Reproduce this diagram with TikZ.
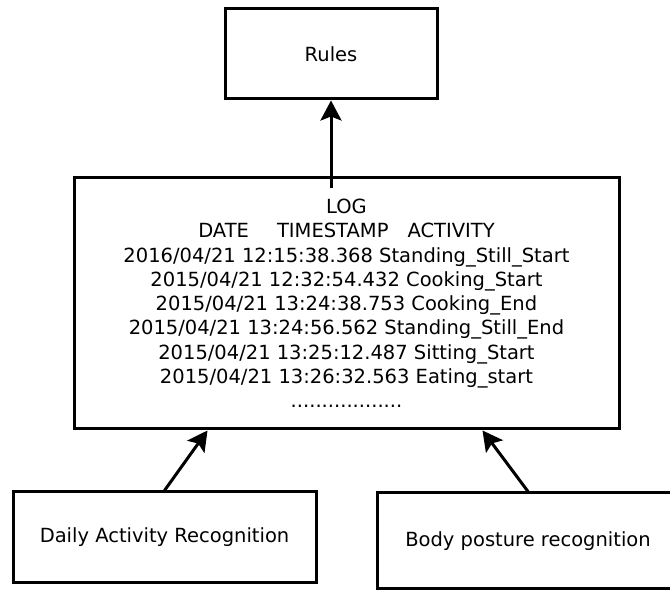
\documentclass[tikz,border=0pt]{standalone}
\usepackage{fontspec}
\setmainfont{DejaVu Sans}
\usetikzlibrary{arrows.meta,positioning}
\tikzset{
  box/.style={draw,line width=3pt,align=center,inner sep=2pt,font=\fontsize{19.5}{24.25}\selectfont},
  ar/.style={-{Stealth[length=20pt,width=21pt,inset=4pt]},line width=3pt}
}
\begin{document}
\begin{tikzpicture}[x=1pt,y=1pt]
\useasboundingbox (0,0) rectangle (670,591);
\node[box,minimum width=212pt,minimum height=90pt] (rules) at (331,537) {Rules};
\node[box,minimum width=545pt,minimum height=251pt] (log) at (346.5,287.5) {LOG\\
  DATE\hspace{28pt}TIMESTAMP\hspace{19pt}ACTIVITY\\
  2016/04/21 12:15:38.368 Standing\_Still\_Start\\
  2015/04/21 12:32:54.432 Cooking\_Start\\
  2015/04/21 13:24:38.753 Cooking\_End\\
  2015/04/21 13:24:56.562 Standing\_Still\_End\\
  2015/04/21 13:25:12.487 Sitting\_Start\\
  2015/04/21 13:26:32.563 Eating\_start\\
  ..................};
\node[box,minimum width=303pt,minimum height=91pt] (daily) at (164.5,53.5) {Daily Activity Recognition};
\node[box,minimum width=302pt,minimum height=96pt] (body) at (528,50) {Body posture recognition};
% arrows into and out of the log
\coordinate (login) at ([yshift=-12pt]rules.south |- log.north);
\coordinate (dailyend) at ([xshift=135pt]log.south west);
\coordinate (bodyend) at ([xshift=410pt]log.south west);
\draw[ar] (login) -- (rules.south);
\draw[ar] (daily.north) -- (dailyend);
\draw[ar] (body.north) -- (bodyend);
\end{tikzpicture}
\end{document}
